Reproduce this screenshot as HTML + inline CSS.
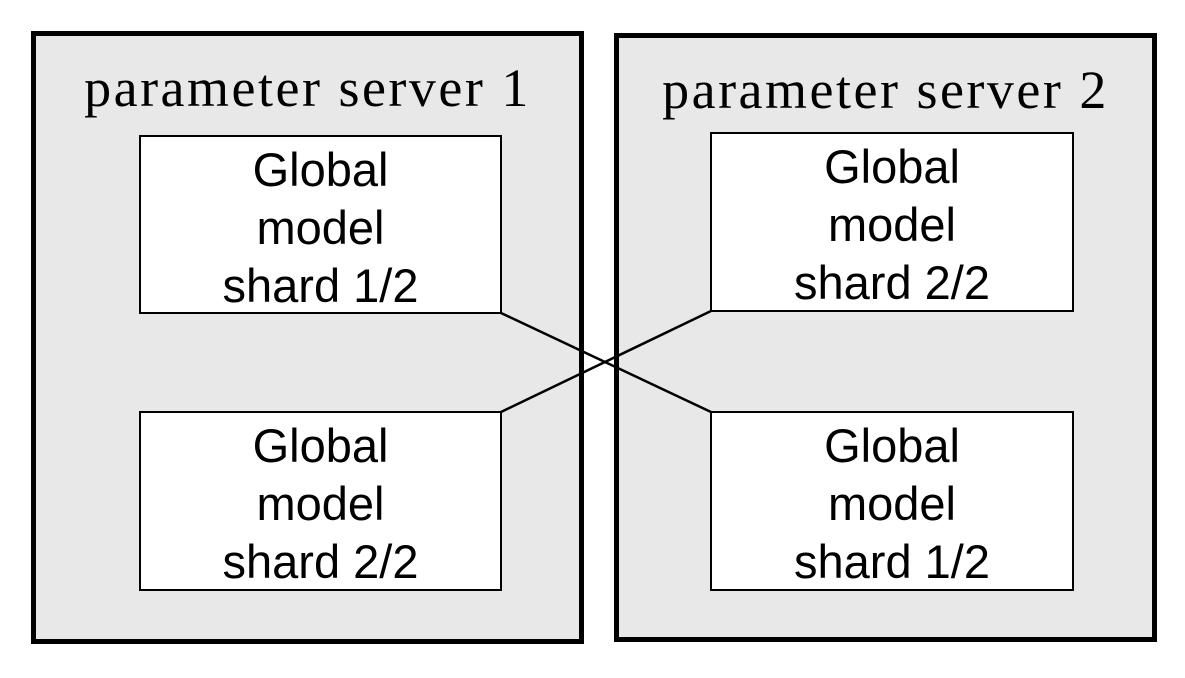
<!DOCTYPE html>
<html><head><style>
body{margin:0;width:1185px;height:678px;background:#fff;overflow:hidden;position:relative}
.big{position:absolute;background:#e8e8e8;border:5px solid #000;box-sizing:border-box}
.t{position:absolute;left:0;right:0;text-align:center;font-family:"Liberation Serif",serif;font-size:54px;letter-spacing:2.5px;color:#000;white-space:nowrap;line-height:1.15}
.in{position:absolute;background:#fff;border:2px solid #000;box-sizing:border-box;font-family:"Liberation Sans",sans-serif;font-size:47px;line-height:58px;text-align:center;padding-top:4px;color:#000}
</style></head><body>
<div class="big" style="left:31px;top:31px;width:553px;height:613px"><div class="t" style="top:21px">parameter server 1</div></div>
<div class="big" style="left:614px;top:33px;width:543px;height:609px"><div class="t" style="top:21px">parameter server 2</div></div>
<div class="in" style="left:139px;top:135px;width:363px;height:179px">Global<br>model<br>shard 1/2</div>
<div class="in" style="left:139px;top:411px;width:363px;height:180px">Global<br>model<br>shard 2/2</div>
<div class="in" style="left:710px;top:132px;width:364px;height:180px">Global<br>model<br>shard 2/2</div>
<div class="in" style="left:710px;top:411px;width:364px;height:180px">Global<br>model<br>shard 1/2</div>
<svg style="position:absolute;left:0;top:0" width="1185" height="678">
<line x1="501" y1="313" x2="711" y2="412" stroke="#000" stroke-width="2.5"/>
<line x1="501" y1="412" x2="711" y2="311" stroke="#000" stroke-width="2.5"/>
</svg>
</body></html>
